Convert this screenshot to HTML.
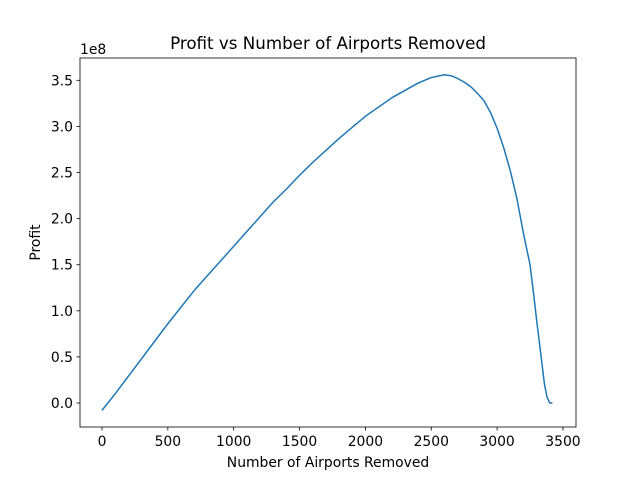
<!DOCTYPE html>
<html><head><meta charset="utf-8"><style>
body{margin:0;background:#fff;}
svg text{font-family:"DejaVu Sans","Liberation Sans",sans-serif;fill:#000;}
</style></head><body>
<svg id="chart" width="640" height="480"></svg>
<script>
const xs=[0,100,200,300,400,500,600,700,800,900,1000,1100,1200,1300,1400,1500,1600,1700,1800,1900,2000,2100,2200,2300,2400,2500,2600,2650,2700,2750,2800,2850,2900,2950,3000,3050,3100,3150,3200,3250,3280,3300,3330,3360,3380,3400,3420];
const profits=[-0.08,0.1,0.29,0.48,0.67,0.86,1.04,1.22,1.38,1.54,1.70,1.86,2.02,2.18,2.32,2.47,2.61,2.74,2.87,2.99,3.11,3.21,3.31,3.39,3.47,3.53,3.56,3.55,3.52,3.48,3.43,3.36,3.28,3.15,2.98,2.77,2.52,2.22,1.84,1.5,1.15,0.9,0.55,0.2,0.06,0.0,0.0];
const xTicks=[0,500,1000,1500,2000,2500,3000,3500];
const yTicks=[0,0.5,1,1.5,2,2.5,3,3.5];
const yLabels=["0.0","0.5","1.0","1.5","2.0","2.5","3.0","3.5"];
const L=80,R=576,T=58,B=427,xmin=-167,xmax=3599,ymin=-0.26,ymax=3.742;
const X=v=>L+(v-xmin)/(xmax-xmin)*(R-L);
const Y=v=>B-(v-ymin)/(ymax-ymin)*(B-T);
const svg=document.getElementById('chart');
const NS='http://www.w3.org/2000/svg';
function mk(tag,attrs,txt){const e=document.createElementNS(NS,tag);for(const k in attrs)e.setAttribute(k,attrs[k]);if(txt!==undefined)e.textContent=txt;svg.appendChild(e);return e;}
const line=mk('polyline',{points:xs.map((x,i)=>X(x)+','+Y(profits[i])).join(' '),fill:'none',stroke:'#1f77b4','stroke-width':1.5,'stroke-linejoin':'round'});


const frame=mk('rect',{x:L,y:T,width:R-L,height:B-T,fill:'none',stroke:'#000','stroke-width':0.8});


xTicks.forEach(t=>{const x=X(t);mk('line',{x1:x,x2:x,y1:B,y2:B+3.5,stroke:'#000','stroke-width':0.8});
const tx=mk('text',{x:x,y:B+19,'text-anchor':'middle','font-size':13.9},String(t));

});
yTicks.forEach((t,i)=>{const y=Y(t);mk('line',{x1:L-3.5,x2:L,y1:y,y2:y,stroke:'#000','stroke-width':0.8});
const ty=mk('text',{x:L-7,y:y+5,'text-anchor':'end','font-size':13.9},yLabels[i]);

});
const off=mk('text',{x:L,y:T-4,'font-size':13.9},'1e8');


const title=mk('text',{x:(L+R)/2,y:T-9,'text-anchor':'middle','font-size':16.7},'Profit vs Number of Airports Removed');


const xl=mk('text',{x:(L+R)/2,y:467,'text-anchor':'middle','font-size':13.9},'Number of Airports Removed');


const yl=mk('text',{x:0,y:0,'text-anchor':'middle','font-size':13.9,transform:'translate(40,'+((T+B)/2)+') rotate(-90)'},'Profit');


</script>
</body></html>
